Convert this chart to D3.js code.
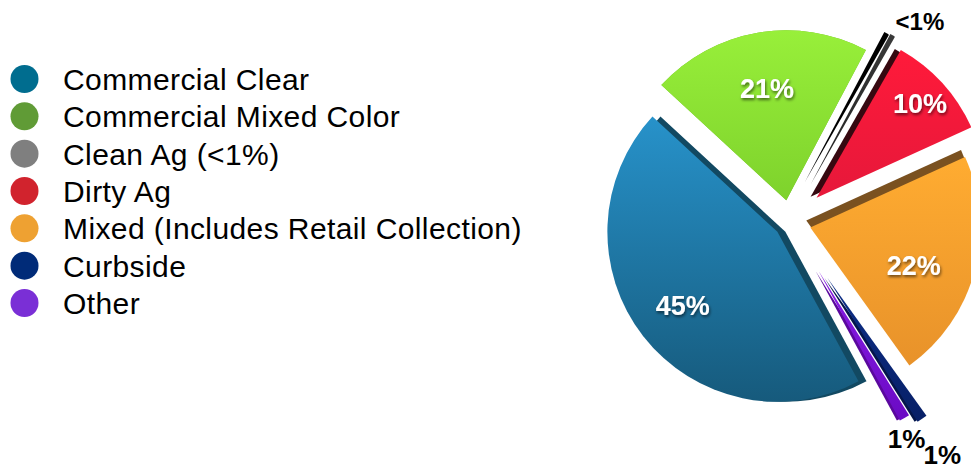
<!DOCTYPE html>
<html>
<head>
<meta charset="utf-8">
<script src="https://cdn.jsdelivr.net/npm/d3@7"></script>
<style>
  body { margin: 0; background: #fff; }
  svg { display: block; }
  .legendText { font-family: "Liberation Sans", Arial, Helvetica, sans-serif; font-size: 30px; letter-spacing: 0.4px; fill: #000; }
  .sliceLabel { font-family: "Liberation Sans", Arial, Helvetica, sans-serif; font-weight: bold; }
</style>
</head>
<body>
<div id="chart"></div>
<script>
// data
var categories = ["Commercial Clear", "Commercial Mixed Color", "Clean Ag (<1%)", "Dirty Ag",
  "Mixed (Includes Retail Collection)", "Curbside", "Other"];
var shares = [45, 21, 0.5, 10, 22, 1, 1];
var shareLabels = ["45%", "21%", "<1%", "10%", "22%", "1%", "1%"];

// styles
var legendColors = ["#006d8f", "#609b36", "#7f7f7f", "#d1232d", "#eea132", "#002b78", "#7a2fd6"];
var topLight = ["#2792ca", "#98ef3a", "#3a3a3a", "#ff1a3a", "#ffac31", "#0c2e88", "#8a1ee6"];
var topDark  = ["#165a7c", "#7ed22c", "#1e1e1e", "#e6183a", "#e8922a", "#071f66", "#6a0ac4"];
var wallColors = ["#124962", "#6fb827", "#000000", "#360810", "#7a5120", "#04164a", "#5b089e"];
var wallDx = [8, 0, -6, -6, -4, -3, -3];
var wallDy = [0, 0, -2, -1, -7, 0, 0];
var explode = [16, 22, 43, 36, 21, 67, 57];
var labelRadius = [120, 114, 0, 140, 110, 0, 0];
var labelTurn = [0, 0, 0, 0, 5, 0, 0]; // degrees, nudges a label along its slice

var width = 971, height = 468;
var cx = 790, cy = 222, radius = 170;

var svg = d3.select("#chart").append("svg")
  .attr("width", width)
  .attr("height", height);

var defs = svg.append("defs");

var shadow = defs.append("filter").attr("id", "txtShadow")
  .attr("x", "-20%").attr("y", "-20%").attr("width", "140%").attr("height", "160%");
shadow.append("feDropShadow")
  .attr("dx", 1).attr("dy", 2).attr("stdDeviation", 1.6)
  .attr("flood-color", "#000").attr("flood-opacity", 0.55);

categories.forEach(function (c, i) {
  var g = defs.append("linearGradient").attr("id", "grad" + i)
    .attr("x1", 0).attr("y1", 0).attr("x2", 0).attr("y2", 1);
  g.append("stop").attr("offset", "0%").attr("stop-color", topLight[i]);
  g.append("stop").attr("offset", "100%").attr("stop-color", topDark[i]);
});

// legend
var legend = svg.append("g").attr("class", "legend");
var legendY = d3.scalePoint().domain(categories).range([79, 303]);

legend.selectAll("circle")
  .data(categories)
  .enter().append("circle")
  .attr("cx", 24.5)
  .attr("cy", function (d) { return legendY(d); })
  .attr("r", 14)
  .attr("fill", function (d, i) { return legendColors[i]; });

legend.selectAll("text")
  .data(categories)
  .enter().append("text")
  .attr("class", "legendText")
  .attr("x", 63)
  .attr("y", function (d) { return legendY(d) + 11; })
  .text(function (d) { return d; });

// pie
var pie = d3.pie().sort(null).value(function (d) { return d; })
  .startAngle(151.5 * Math.PI / 180)
  .endAngle(511.5 * Math.PI / 180);

var arcs = pie(shares);
var arc = d3.arc().innerRadius(0).outerRadius(radius);

function mid(d) { return (d.startAngle + d.endAngle) / 2; }
function apex(d, i) {
  var a = mid(d);
  return [cx + explode[i] * Math.sin(a), cy - explode[i] * Math.cos(a)];
}

var pieG = svg.append("g");

// side walls first, so the tops cover them
pieG.append("g").selectAll("path")
  .data(arcs)
  .enter().append("path")
  .attr("d", arc)
  .attr("fill", function (d, i) { return wallColors[i]; })
  .attr("transform", function (d, i) {
    var p = apex(d, i);
    return "translate(" + (p[0] + wallDx[i]) + "," + (p[1] + wallDy[i]) + ")";
  });

pieG.append("g").selectAll("path")
  .data(arcs)
  .enter().append("path")
  .attr("d", arc)
  .attr("fill", function (d, i) { return "url(#grad" + i + ")"; })
  .attr("transform", function (d, i) {
    var p = apex(d, i);
    return "translate(" + p[0] + "," + p[1] + ")";
  });

// labels inside the big slices
pieG.append("g").selectAll("text")
  .data(arcs.filter(function (d, i) { return labelRadius[i] > 0; }))
  .enter().append("text")
  .attr("class", "sliceLabel")
  .attr("font-size", 27)
  .attr("fill", "#fff")
  .attr("filter", "url(#txtShadow)")
  .attr("text-anchor", "middle")
  .attr("dy", "0.36em")
  .attr("x", function (d) {
    var i = d.index, p = apex(d, i);
    return p[0] + labelRadius[i] * Math.sin(mid(d) + labelTurn[i] * Math.PI / 180);
  })
  .attr("y", function (d) {
    var i = d.index, p = apex(d, i);
    return p[1] - labelRadius[i] * Math.cos(mid(d) + labelTurn[i] * Math.PI / 180);
  })
  .text(function (d) { return shareLabels[d.index]; });

// labels outside the slivers, placed next to the tip
var outDx = { 2: 1, 5: 18, 6: 0 };
var outDy = { 2: -2, 5: 42, 6: 27 };
var outSize = { 2: 24, 5: 26, 6: 26 };
var outAnchor = { 2: "start", 5: "middle", 6: "middle" };

pieG.append("g").selectAll("text")
  .data(arcs.filter(function (d, i) { return labelRadius[i] === 0; }))
  .enter().append("text")
  .attr("class", "sliceLabel")
  .attr("fill", "#000")
  .attr("font-size", function (d) { return outSize[d.index]; })
  .attr("text-anchor", function (d) { return outAnchor[d.index]; })
  .attr("x", function (d) {
    var i = d.index, p = apex(d, i);
    return p[0] + (radius + 4) * Math.sin(mid(d)) + outDx[i];
  })
  .attr("y", function (d) {
    var i = d.index, p = apex(d, i);
    return p[1] - (radius + 4) * Math.cos(mid(d)) + outDy[i];
  })
  .text(function (d) { return shareLabels[d.index]; });
</script>
</body>
</html>
